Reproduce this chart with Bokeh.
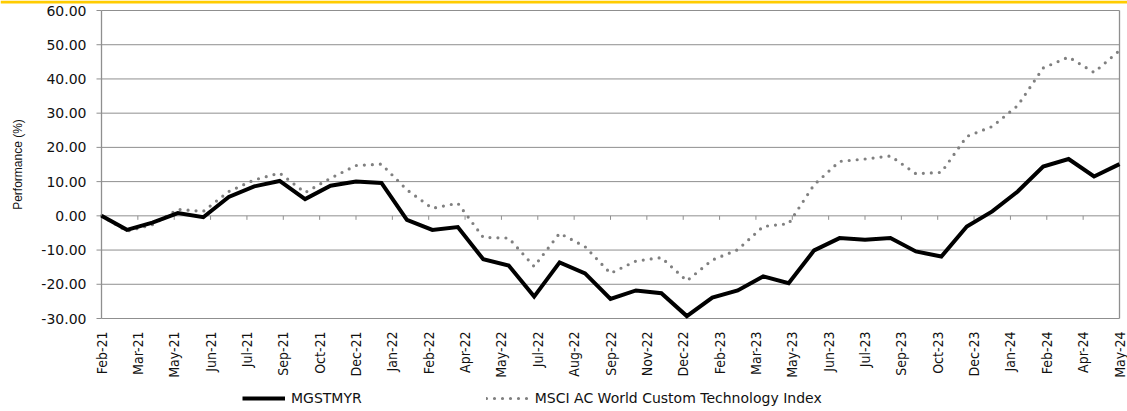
from math import pi
from bokeh.plotting import figure
from bokeh.models import Range1d, Legend, LegendItem, ColumnDataSource
from bokeh.core.properties import value
from bokeh.embed import file_html
from bokeh.resources import INLINE

# ---- data ----
tick_labels = ["Feb-21", "Mar-21", "May-21", "Jun-21", "Jul-21", "Sep-21", "Oct-21", "Dec-21",
               "Jan-22", "Feb-22", "Apr-22", "May-22", "Jul-22", "Aug-22", "Sep-22", "Nov-22",
               "Dec-22", "Feb-23", "Mar-23", "May-23", "Jun-23", "Jul-23", "Sep-23", "Oct-23",
               "Dec-23", "Jan-24", "Feb-24", "Apr-24", "May-24"]

fund = [0.0, -4.1, -2.0, 0.8, -0.4, 5.5, 8.6, 10.2, 4.9, 8.8, 10.0, 9.6,
        -1.2, -4.1, -3.3, -12.7, -14.5, -23.6, -13.6, -16.8, -24.3, -21.8, -22.6, -29.3,
        -23.9, -21.8, -17.7, -19.7, -10.1, -6.5, -7.0, -6.5, -10.4, -11.9, -3.1, 1.3,
        7.1, 14.4, 16.6, 11.5, 15.1]

index = [0.0, -4.5, -2.6, 1.9, 1.3, 7.1, 10.5, 12.5, 6.8, 11.0, 14.7, 15.1,
         7.6, 2.2, 3.7, -6.3, -6.5, -14.8, -5.1, -9.0, -16.8, -13.2, -12.2, -19.0,
         -12.9, -9.9, -3.1, -2.3, 9.1, 15.9, 16.6, 17.5, 12.3, 12.7, 23.2, 26.1,
         32.2, 43.2, 46.4, 41.9, 48.3]

y_ticks = [-30, -20, -10, 0, 10, 20, 30, 40, 50, 60]
series_names = ["MGSTMYR", "MSCI AC World Custom Technology Index"]
y_title = "Performance (%)"

n_pts = len(fund)
n_ticks = len(tick_labels)
xs = [k * (n_ticks - 1) / (n_pts - 1) for k in range(n_pts)]
tick_pos = list(range(n_ticks))

# ---- layout (pixels) ----
W, H = 1127, 411
PLOT_L, PLOT_R, PLOT_T, PLOT_B = 101, 1119, 10, 318
Y0, Y1 = y_ticks[0], y_ticks[-1]
XMAX = n_ticks - 1
px_x = (PLOT_R - PLOT_L) / XMAX
px_y = (PLOT_B - PLOT_T) / (Y1 - Y0)
X_LO = -PLOT_L / px_x
X_HI = XMAX + (W - PLOT_R) / px_x
Y_LO = Y0 - (H - PLOT_B) / px_y
Y_HI = Y1 + PLOT_T / px_y

GRID = "#8f8f8f"
FONT = "DejaVu Sans"
TXT = "#111111"

p = figure(frame_width=W, frame_height=H, min_border=0, output_backend="svg",
           toolbar_location=None, x_axis_location=None, y_axis_location=None,
           x_range=Range1d(X_LO, X_HI), y_range=Range1d(Y_LO, Y_HI))
p.background_fill_color = "white"
p.border_fill_color = "white"
p.outline_line_color = None
p.grid.visible = False
for g in p.grid:
    g.grid_line_color = None

# gold band at the top of the page
p.quad(left=[X_LO], right=[X_HI], top=[Y_HI], bottom=[Y_HI - 3 / px_y],
       fill_color="#FFCC00", line_color=None)

# horizontal grid lines (incl. top and bottom border)
nt = len(y_ticks)
p.segment(x0=[0] * nt, x1=[XMAX] * nt, y0=y_ticks, y1=y_ticks, line_color=GRID, line_width=1)
# left axis line and right border
p.segment(x0=[0, XMAX], x1=[0, XMAX], y0=[Y0, Y0], y1=[Y1, Y1], line_color=GRID, line_width=1.3)
# y tick marks
p.segment(x0=[-5 / px_x] * nt, x1=[0] * nt, y0=y_ticks, y1=y_ticks, line_color=GRID, line_width=1)
# y tick labels
p.text(x=[-15 / px_x] * nt, y=y_ticks, text=[f"{v:.2f}" for v in y_ticks],
       text_align="right", text_baseline="middle", text_font=value(FONT),
       text_font_size="14px", text_color=TXT)
# y axis title
p.text(x=[(17 - PLOT_L) / px_x], y=[(Y0 + Y1) / 2], text=[y_title], angle=pi / 2,
       text_align="center", text_baseline="middle", text_font=value("Liberation Sans"),
       text_font_size="12px", text_color=TXT)

# category tick marks hanging from the zero line
p.segment(x0=tick_pos[1:], x1=tick_pos[1:], y0=[0] * (n_ticks - 1),
          y1=[-4 / px_y] * (n_ticks - 1), line_color=GRID, line_width=1)
# x tick labels (vertical)
p.text(x=tick_pos, y=[Y0 - 13 / px_y] * n_ticks, text=tick_labels, angle=pi / 2,
       text_align="right", text_baseline="middle", text_font=value("DejaVu Sans Condensed"),
       text_font_size="14px", text_color=TXT)

src = ColumnDataSource(dict(x=xs, fund=fund, index=index))
r_idx = p.line("x", "index", source=src, line_color="#808080", line_width=3.2,
               line_dash="0 8", line_cap="round")
r_fund = p.line("x", "fund", source=src, line_color="#000000", line_width=4, line_join="miter")

legend = Legend(items=[LegendItem(label=series_names[0], renderers=[r_fund]),
                       LegendItem(label=series_names[1], renderers=[r_idx])],
                orientation="horizontal", location=(242, 5),
                glyph_width=43, glyph_height=16, label_standoff=6, spacing=124,
                padding=0, margin=0, border_line_color=None, background_fill_alpha=0,
                label_text_font=FONT, label_text_font_size="14px", label_text_color=TXT)
p.add_layout(legend, "center")

open("out.html", "w").write(file_html(p, INLINE))
